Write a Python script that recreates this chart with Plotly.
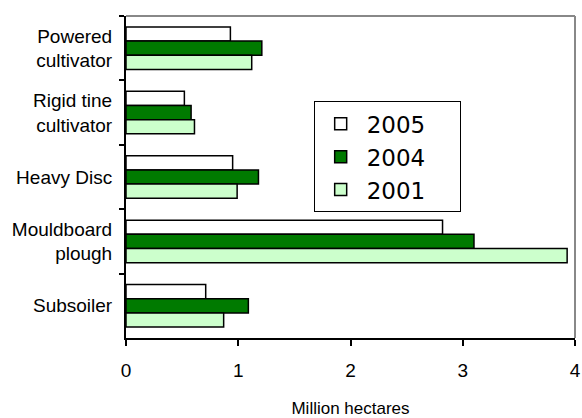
import plotly.graph_objects as go

categories = ["Powered<br>cultivator", "Rigid tine<br>cultivator", "Heavy Disc",
              "Mouldboard<br>plough", "Subsoiler"]
years = ["2005", "2004", "2001"]
v2005 = [0.93, 0.52, 0.95, 2.82, 0.71]
v2004 = [1.21, 0.58, 1.18, 3.10, 1.09]
v2001 = [1.12, 0.61, 0.99, 3.93, 0.87]
colors = ["#FFFFFF", "#007A00", "#CCFFCC"]
x_ticks = [0, 1, 2, 3, 4]

fig = go.Figure()
for name, vals, col in zip(years, [v2005, v2004, v2001], colors):
    fig.add_trace(go.Bar(
        y=categories, x=vals, name=name + "\u00a0\u00a0\u00a0\u00a0", orientation="h",
        marker=dict(color=col, line=dict(color="#000000", width=1.5)),
    ))

fig.update_layout(
    width=582, height=418,
    margin=dict(l=126, r=7, t=16, b=80),
    paper_bgcolor="white", plot_bgcolor="white",
    barmode="group", bargap=0.34, bargroupgap=0,
    font=dict(family="Liberation Sans, Arial, sans-serif", color="#000000"),
    xaxis=dict(
        range=[0, 4], tickvals=x_ticks, ticks="outside", ticklen=6,
        tickcolor="#000", tickwidth=1.5, showline=True, linecolor="#000",
        linewidth=2, showgrid=False, zeroline=False, automargin=False,
        tickfont=dict(size=19), ticklabeloverflow="allow", ticklabelstandoff=8,
        title=dict(text="Million hectares", font=dict(size=17), standoff=25),
    ),
    yaxis=dict(
        autorange="reversed", type="category", ticks="outside",
        tickson="boundaries", ticklen=5, tickcolor="#000", tickwidth=1.5,
        showline=True, linecolor="#000", linewidth=2, showgrid=False,
        tickfont=dict(size=19), ticklabelstandoff=8, automargin=False,
    ),
    legend=dict(
        x=0.418, y=0.735, xanchor="left", yanchor="top",
        bgcolor="white", bordercolor="#000", borderwidth=1,
        font=dict(size=23, family="DejaVu Sans"), itemwidth=42, tracegroupgap=0,
    ),
    showlegend=True,
    shapes=[
        dict(type="line", xref="paper", yref="paper", x0=0, x1=1, y0=1, y1=1,
             line=dict(color="#888888", width=2)),
        dict(type="line", xref="paper", yref="paper", x0=1, x1=1, y0=0, y1=1,
             line=dict(color="#888888", width=2)),
    ],
)

fig.write_html("out.html", config={"displayModeBar": False},
               post_script="document.body.style.margin='0';document.body.style.overflow='hidden';")
